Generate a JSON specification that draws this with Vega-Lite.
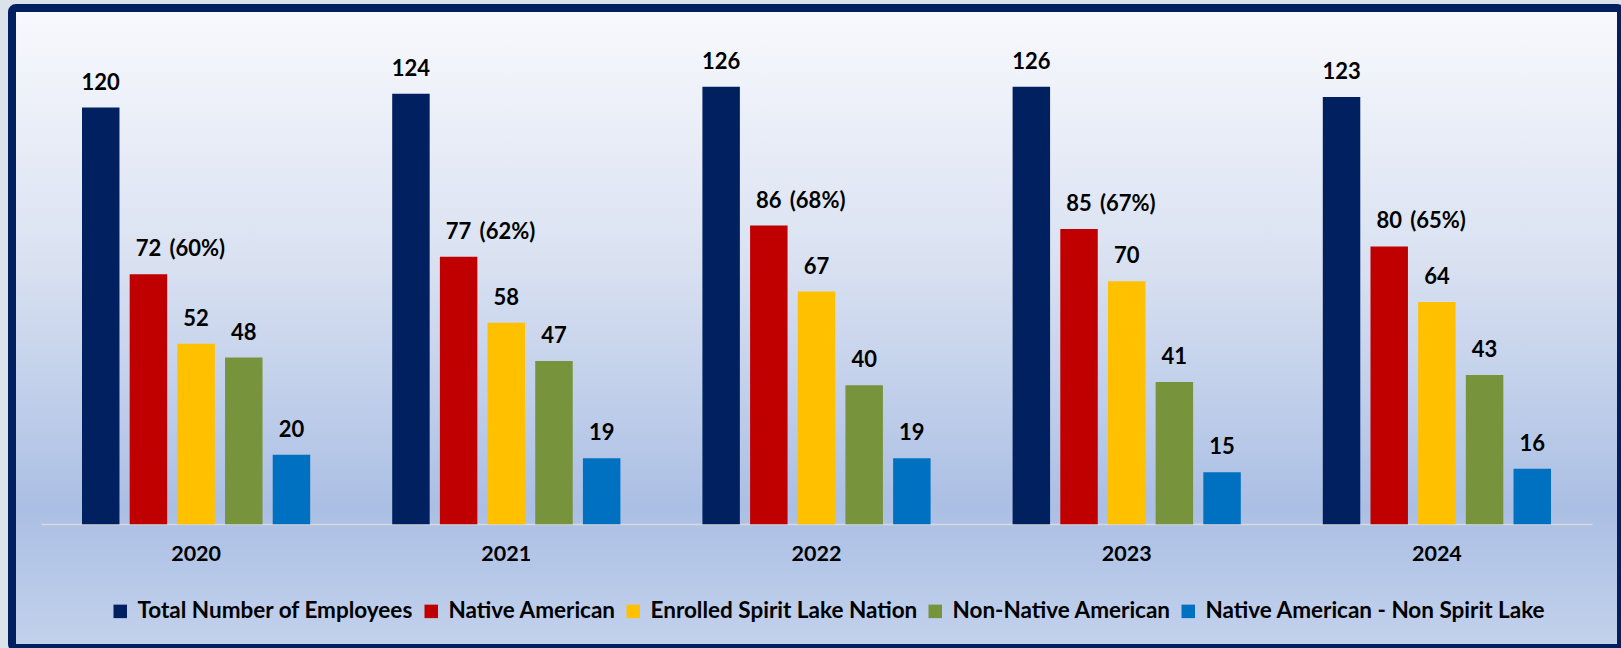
{
  "$schema": "https://vega.github.io/schema/vega-lite/v6.json",
  "autosize": {"type": "none"},
  "width": 1609,
  "height": 640,
  "padding": {"left": 12, "top": 8, "right": 0, "bottom": 0},
  "background": "#dce2ea",
  "config": {
    "view": {
      "stroke": "#002060",
      "strokeWidth": 8,
      "cornerRadius": 4,
      "fill": {
        "gradient": "linear",
        "x1": 0, "y1": 0, "x2": 0, "y2": 1,
        "stops": [
          {"offset": 0, "color": "#f8f9fd"},
          {"offset": 0.4, "color": "#d9e1f1"},
          {"offset": 0.78, "color": "#abbfe4"},
          {"offset": 1, "color": "#c3d2ec"}
        ]
      }
    },
    "font": "Lato"
  },
  "data": {
    "values": [
      {"year": "2020", "group": "Total Number of Employees", "value": 120},
      {"year": "2020", "group": "Native American", "value": 72, "pct": "(60%)"},
      {"year": "2020", "group": "Enrolled Spirit Lake Nation", "value": 52},
      {"year": "2020", "group": "Non-Native American", "value": 48},
      {"year": "2020", "group": "Native American - Non Spirit Lake", "value": 20},
      {"year": "2021", "group": "Total Number of Employees", "value": 124},
      {"year": "2021", "group": "Native American", "value": 77, "pct": "(62%)"},
      {"year": "2021", "group": "Enrolled Spirit Lake Nation", "value": 58},
      {"year": "2021", "group": "Non-Native American", "value": 47},
      {"year": "2021", "group": "Native American - Non Spirit Lake", "value": 19},
      {"year": "2022", "group": "Total Number of Employees", "value": 126},
      {"year": "2022", "group": "Native American", "value": 86, "pct": "(68%)"},
      {"year": "2022", "group": "Enrolled Spirit Lake Nation", "value": 67},
      {"year": "2022", "group": "Non-Native American", "value": 40},
      {"year": "2022", "group": "Native American - Non Spirit Lake", "value": 19},
      {"year": "2023", "group": "Total Number of Employees", "value": 126},
      {"year": "2023", "group": "Native American", "value": 85, "pct": "(67%)"},
      {"year": "2023", "group": "Enrolled Spirit Lake Nation", "value": 70},
      {"year": "2023", "group": "Non-Native American", "value": 41},
      {"year": "2023", "group": "Native American - Non Spirit Lake", "value": 15},
      {"year": "2024", "group": "Total Number of Employees", "value": 123},
      {"year": "2024", "group": "Native American", "value": 80, "pct": "(65%)"},
      {"year": "2024", "group": "Enrolled Spirit Lake Nation", "value": 64},
      {"year": "2024", "group": "Non-Native American", "value": 43},
      {"year": "2024", "group": "Native American - Non Spirit Lake", "value": 16}
    ]
  },
  "encoding": {
    "x": {
      "field": "year",
      "type": "nominal",
      "scale": {"range": [29, 1580], "paddingInner": 0, "paddingOuter": 0},
      "axis": {
        "title": null,
        "orient": "bottom",
        "offset": -124,
        "labelAngle": 0,
        "ticks": false,
        "tickSize": 0,
        "domainColor": "#d9d9d9",
        "domainWidth": 1.5,
        "labelFont": "Lato",
        "labelFontWeight": "bold",
        "labelFontSize": 21.5,
        "labelColor": "#000000",
        "labelBaseline": "alphabetic",
        "labelPadding": 36,
        "grid": false
      }
    },
    "xOffset": {
      "field": "group",
      "type": "nominal",
      "sort": ["Total Number of Employees", "Native American", "Enrolled Spirit Lake Nation", "Non-Native American", "Native American - Non Spirit Lake"],
      "scale": {"paddingInner": 0.214, "paddingOuter": 0.86}
    },
    "y": {
      "field": "value",
      "type": "quantitative",
      "stack": null,
      "scale": {"domain": [-35.62, 148.66], "nice": false, "zero": false},
      "axis": null
    }
  },
  "layer": [
    {
      "mark": {"type": "bar"},
      "encoding": {
        "y2": {"datum": 0},
        "color": {
          "field": "group",
          "type": "nominal",
          "scale": {
            "domain": ["Total Number of Employees", "Native American", "Enrolled Spirit Lake Nation", "Non-Native American", "Native American - Non Spirit Lake"],
            "range": ["#002060", "#c00000", "#ffc000", "#77933c", "#0070c0"]
          },
          "legend": {
            "title": null,
            "orient": "none",
            "legendX": 97,
            "legendY": 592,
            "direction": "horizontal",
            "columns": 5,
            "symbolType": "square",
            "symbolSize": 182,
            "symbolStrokeWidth": 0,
            "symbolOpacity": 1,
            "labelFont": "Lato",
            "labelFontWeight": "bold",
            "labelFontSize": 22.5,
            "labelColor": "#000000",
            "labelOffset": 6,
            "labelLimit": 0,
            "columnPadding": 6,
            "padding": 0
          }
        }
      }
    },
    {
      "mark": {"type": "text", "font": "Lato", "fontWeight": "bold", "fontSize": 22, "color": "#000000", "baseline": "alphabetic", "dy": -18},
      "encoding": {
        "text": {"field": "value", "type": "quantitative"}
      }
    },
    {
      "transform": [{"filter": "isValid(datum.pct)"}],
      "mark": {"type": "text", "font": "Lato", "fontWeight": "bold", "fontSize": 22, "color": "#000000", "baseline": "alphabetic", "align": "left", "dy": -18, "dx": 21},
      "encoding": {
        "text": {"field": "pct", "type": "nominal"}
      }
    }
  ]
}
